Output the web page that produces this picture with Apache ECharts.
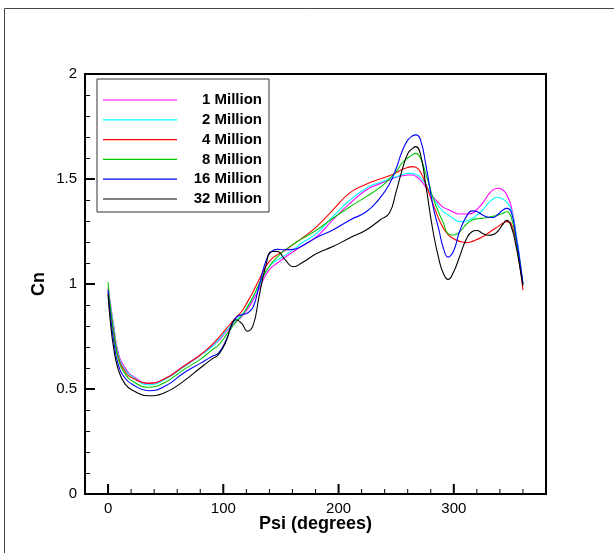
<!DOCTYPE html>
<html>
<head>
<meta charset="utf-8">
<script src="https://cdn.jsdelivr.net/npm/echarts@6/dist/echarts.min.js"></script>
<style>
html,body{margin:0;padding:0;background:#fff;}
#chart{width:614px;height:553px;}
</style>
</head>
<body>
<div id="chart"></div>
<script>
var psi = [0,2,5,9,15,22,35,50,65,80,90,96,103,107,111,116,121,126,131,137,142,147,153,161,168,181,195,210,224,236,244,250,255,260,264,267,271,276,282,287,291,295,300,305,311,316,320,325,330,334,338,342,346,350,354,357,360];

var m1 = [0.98,0.91,0.797,0.67,0.598,0.559,0.527,0.551,0.606,0.662,0.705,0.73,0.775,0.795,0.82,0.845,0.88,0.925,0.975,1.045,1.08,1.10,1.125,1.155,1.18,1.225,1.305,1.385,1.448,1.478,1.495,1.508,1.515,1.519,1.519,1.513,1.495,1.46,1.415,1.385,1.365,1.355,1.342,1.333,1.333,1.337,1.355,1.385,1.425,1.448,1.456,1.45,1.425,1.365,1.24,1.13,1.0];
var m2 = [0.97,0.9,0.79,0.662,0.59,0.555,0.52,0.548,0.602,0.66,0.70,0.735,0.78,0.805,0.83,0.85,0.895,0.94,0.99,1.06,1.095,1.115,1.135,1.165,1.195,1.241,1.321,1.40,1.456,1.485,1.50,1.511,1.52,1.527,1.527,1.522,1.508,1.47,1.41,1.37,1.345,1.33,1.31,1.297,1.3,1.313,1.328,1.352,1.385,1.405,1.413,1.405,1.39,1.35,1.24,1.13,1.0];
var m4 = [0.96,0.88,0.77,0.65,0.582,0.55,0.527,0.551,0.606,0.662,0.71,0.745,0.79,0.815,0.84,0.87,0.915,0.965,1.02,1.085,1.12,1.14,1.158,1.19,1.217,1.273,1.352,1.435,1.475,1.50,1.515,1.53,1.545,1.555,1.559,1.556,1.535,1.47,1.38,1.31,1.265,1.235,1.215,1.203,1.197,1.203,1.212,1.225,1.243,1.258,1.272,1.288,1.297,1.285,1.2,1.1,0.971];
var m8 = [1.008,0.89,0.76,0.641,0.571,0.535,0.508,0.533,0.59,0.641,0.685,0.71,0.76,0.79,0.82,0.85,0.89,0.94,1.0,1.06,1.10,1.13,1.16,1.19,1.215,1.257,1.313,1.368,1.416,1.46,1.50,1.535,1.575,1.60,1.615,1.622,1.60,1.52,1.41,1.34,1.29,1.24,1.233,1.248,1.285,1.305,1.31,1.313,1.318,1.322,1.328,1.335,1.344,1.315,1.21,1.11,1.0];
var m16 = [0.97,0.85,0.725,0.614,0.55,0.519,0.492,0.515,0.574,0.622,0.655,0.672,0.74,0.80,0.84,0.854,0.862,0.892,0.99,1.11,1.155,1.165,1.163,1.165,1.18,1.222,1.257,1.305,1.344,1.41,1.475,1.55,1.63,1.685,1.705,1.71,1.688,1.56,1.37,1.26,1.17,1.128,1.16,1.25,1.322,1.348,1.345,1.329,1.318,1.317,1.33,1.35,1.36,1.34,1.225,1.12,1.0];
var m32 = [0.95,0.82,0.69,0.59,0.522,0.492,0.468,0.485,0.535,0.60,0.642,0.665,0.735,0.805,0.83,0.812,0.775,0.805,0.94,1.09,1.155,1.155,1.12,1.082,1.10,1.145,1.178,1.22,1.257,1.305,1.337,1.44,1.54,1.62,1.645,1.654,1.62,1.46,1.25,1.12,1.05,1.022,1.06,1.13,1.215,1.25,1.255,1.241,1.232,1.235,1.25,1.28,1.303,1.27,1.18,1.09,0.99];

var seriesNames = ['1 Million','2 Million','4 Million','8 Million','16 Million','32 Million'];
var seriesColors = ['#ff00ff','#00ffff','#ff0000','#00c800','#0000ff','#000000'];
var seriesValues = [m1,m2,m4,m8,m16,m32];

var xMajor = [0,100,200,300];
var xMinor = [20,40,60,80,120,140,160,180,220,240,260,280,320,340,360];

var chart = echarts.init(document.getElementById('chart'), null, {renderer:'canvas'});
var FONT = '"Liberation Sans", Arial, Helvetica, sans-serif';

var series = seriesNames.map(function(name, k){
  return {
    name: name,
    type: 'line',
    smooth: 0.5,
    symbol: 'none',
    showSymbol: false,
    lineStyle: {color: seriesColors[k], width: 1.1},
    itemStyle: {color: seriesColors[k]},
    data: psi.map(function(p, i){ return [p, seriesValues[k][i]]; }),
    z: 2 + k
  };
});

// x-axis tick marks, each a short vertical segment drawn through the chart's scales
// (lengths: grid height 420 px spans 0..2 on the y axis)
var PX = 2 / 420;
function tickLine(v, lenPx, width){
  return {
    name: 'tick' + v, type: 'line', symbol: 'none', showSymbol: false,
    silent: true, clip: false, z: 15, animation: false,
    lineStyle: {color: '#000', width: width},
    itemStyle: {color: '#000'},
    emphasis: {disabled: true},
    data: [[v, 0], [v, lenPx * PX]]
  };
}
xMajor.forEach(function(v){ series.push(tickLine(v, 10, 2)); });
xMinor.forEach(function(v){ series.push(tickLine(v, 5, 1)); });

chart.setOption({
  animation: false,
  backgroundColor: '#ffffff',
  tooltip: {show: false},
  graphic: {elements: [{
    id: 'frame',
    type: 'rect',
    shape: {x: 4.5, y: 8.5, width: 800, height: 800},
    style: {fill: 'none', stroke: '#444', lineWidth: 1},
    silent: true, z: -1
  }]},
  grid: {
    left: 85, top: 74, width: 461, height: 420,
    show: true, borderColor: '#000', borderWidth: 2, backgroundColor: 'transparent'
  },
  legend: {
    left: 97, top: 79,
    orient: 'vertical',
    backgroundColor: '#fff',
    borderColor: '#333', borderWidth: 1,
    padding: [13, 7, 5, 6],
    icon: 'rect',
    itemWidth: 74, itemHeight: 1.2, itemGap: 3.8,
    data: seriesNames,
    formatter: function(n){ return '{a|' + n + '}'; },
    textStyle: {
      fontFamily: FONT, fontSize: 15, fontWeight: 'bold', color: '#000', lineHeight: 16,
      rich: {a: {width: 80, align: 'right', fontFamily: FONT, fontSize: 15, fontWeight: 'bold', color: '#000', lineHeight: 16}}
    },
    z: 20
  },
  xAxis: [{
    type: 'value', min: -20, max: 380, interval: 20, position: 'bottom',
    name: 'Psi (degrees)', nameLocation: 'middle', nameGap: 21, nameMoveOverlap: false,
    nameTextStyle: {fontFamily: FONT, fontSize: 18, fontWeight: 'bold', color: '#000'},
    axisLine: {show: true, onZero: false, lineStyle: {color: '#000', width: 2}},
    axisTick: {show: false},
    axisLabel: {show: true, margin: 7, fontFamily: FONT, fontSize: 15, color: '#000',
      showMinLabel: true, showMaxLabel: true, hideOverlap: false, interval: 0,
      formatter: function(v){ return (v >= 0 && v % 100 === 0) ? String(v) : ''; }},
    splitLine: {show: false}
  }],
  yAxis: [{
    type: 'value', min: 0, max: 2, interval: 0.5, position: 'left',
    name: 'Cn', nameLocation: 'middle', nameGap: 37, nameRotate: 90, nameMoveOverlap: false,
    nameTextStyle: {fontFamily: FONT, fontSize: 18, fontWeight: 'bold', color: '#000'},
    axisLine: {show: true, onZero: false, lineStyle: {color: '#000', width: 2}},
    axisTick: {show: true, inside: true, length: 10, lineStyle: {color: '#000', width: 2}},
    minorTick: {show: true, splitNumber: 5, length: 5, lineStyle: {color: '#000', width: 1}},
    axisLabel: {show: true, margin: 8, fontFamily: FONT, fontSize: 15, color: '#000',
      formatter: function(v){ return String(v); }},
    splitLine: {show: false},
    minorSplitLine: {show: false}
  }],
  series: series
});
</script>
</body>
</html>
